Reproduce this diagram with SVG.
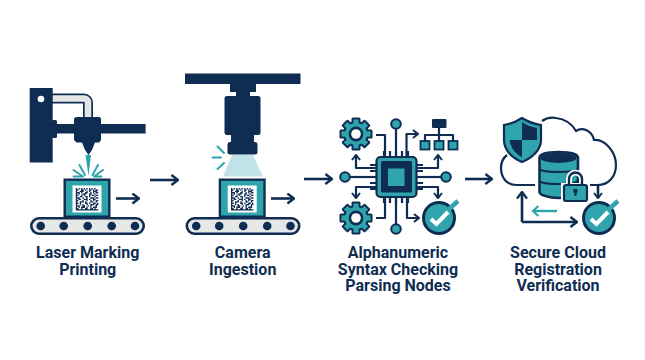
<svg xmlns="http://www.w3.org/2000/svg" width="645" height="360" viewBox="0 0 645 360">
<style>
.navy{fill:#0f2d52}
.teal{fill:#2fa4ad}
.line{fill:none;stroke:#0f2d52;stroke-width:2.2;stroke-linecap:butt;stroke-linejoin:round}
.thick{fill:none;stroke:#0f2d52;stroke-width:2.6;stroke-linejoin:miter}
.ray{fill:none;stroke:#2fa4ad;stroke-width:2;stroke-linecap:round}
.lab{font-family:Roboto,"Liberation Sans",sans-serif;font-weight:700;font-size:16px;fill:#0f2d52;text-anchor:middle}
</style>
<defs>
  <marker id="head" viewBox="0 0 10 12" refX="8.6" refY="6" markerWidth="10" markerHeight="12" markerUnits="userSpaceOnUse" orient="auto">
    <path d="M2 1L8.6 6L2 11" fill="none" stroke="#0f2d52" stroke-width="2.4"/>
  </marker>
  <marker id="headS" viewBox="0 0 8 10" refX="6.6" refY="5" markerWidth="8" markerHeight="10" markerUnits="userSpaceOnUse" orient="auto">
    <path d="M1.6 1L6.6 5L1.6 9" fill="none" stroke="#0f2d52" stroke-width="2"/>
  </marker>
  <marker id="headT" viewBox="0 0 10 12" refX="8.400" refY="6" markerWidth="10" markerHeight="12" markerUnits="userSpaceOnUse" orient="auto">
    <path d="M3 1L8.400 6L3 11" fill="none" stroke="#2fa4ad" stroke-width="2.2"/>
  </marker>
  <!-- Two-dimensional code, 17 by 17 modules -->
  <g id="code">
    <rect width="29" height="27" fill="#fff"/>
    <g transform="translate(3.3 2.6) scale(1.32)">
      <path fill="none" stroke="#0f2d52" stroke-width="1" d="M0 .5h1m1 0h1m1 0h1m1 0h1m1 0h1m1 0h1m1 0h1m1 0h1
      M0 1.5h2m2 0h2m1 0h1m2 0h2m1 0h1m1 0h2
      M0 2.5h1m2 0h3m2 0h1m1 0h1m2 0h3
      M0 3.5h3m1 0h1m2 0h2m2 0h1m1 0h1m1 0h2
      M0 4.5h1m1 0h1m2 0h3m2 0h2m2 0h1
      M0 5.5h2m2 0h1m1 0h1m3 0h1m1 0h2m1 0h2
      M0 6.5h1m2 0h2m2 0h2m1 0h1m3 0h1
      M0 7.5h3m2 0h1m2 0h1m2 0h3m1 0h2
      M0 8.5h1m1 0h2m2 0h3m1 0h1m2 0h2
      M0 9.5h2m3 0h1m2 0h1m2 0h1m1 0h1m1 0h2
      M0 10.5h1m2 0h3m1 0h1m3 0h2m2 0h1
      M0 11.5h2m1 0h1m3 0h2m1 0h1m2 0h2m1 0h1
      M0 12.5h1m2 0h1m1 0h1m2 0h1m2 0h3m1 0h2
      M0 13.5h3m2 0h2m2 0h1m1 0h1m3 0h1
      M0 14.5h1m1 0h1m1 0h3m1 0h1m2 0h1m1 0h3
      M0 15.5h2m2 0h1m2 0h2m2 0h2m1 0h1
      M0 16.5h17"/>
    </g>
  </g>
  <!-- Conveyor belt with five rollers, origin at its left end -->
  <g id="belt">
    <rect x="1.3" y="1.3" width="112.4" height="15.4" rx="7.7" fill="#e6e7e7" stroke="#0f2d52" stroke-width="2.6"/>
    <circle cx="10.7" cy="9" r="4.3" class="navy"/>
    <circle cx="33.7" cy="9" r="4.3" class="navy"/>
    <circle cx="57.7" cy="9" r="4.3" class="navy"/>
    <circle cx="81.7" cy="9" r="4.3" class="navy"/>
    <circle cx="105" cy="9" r="4.3" class="navy"/>
  </g>
  <!-- Carton holding the code, origin at its top left -->
  <g id="carton">
    <rect x="1.2" y="1.2" width="44.6" height="37" class="teal" stroke="#0f2d52" stroke-width="2.4"/>
    <use href="#code" x="9" y="7"/>
  </g>
  <!-- Gear, origin at its centre -->
  <g id="gear">
    <g class="navy">
      <rect x="-4.5" y="-16.5" width="9" height="33" rx="1.5"/>
      <rect x="-4.5" y="-16.5" width="9" height="33" rx="1.5" transform="rotate(45)"/>
      <rect x="-4.5" y="-16.5" width="9" height="33" rx="1.5" transform="rotate(90)"/>
      <rect x="-4.5" y="-16.5" width="9" height="33" rx="1.5" transform="rotate(135)"/>
      <circle r="13"/>
    </g>
    <g class="teal">
      <rect x="-2.6" y="-14.5" width="5.2" height="29"/>
      <rect x="-2.6" y="-14.5" width="5.2" height="29" transform="rotate(45)"/>
      <rect x="-2.6" y="-14.5" width="5.2" height="29" transform="rotate(90)"/>
      <rect x="-2.6" y="-14.5" width="5.2" height="29" transform="rotate(135)"/>
      <circle r="11"/>
    </g>
    <circle r="7.4" class="navy"/>
    <circle r="4.8" fill="#fff"/>
  </g>
  <!-- Round check badge, origin at its centre -->
  <g id="badge">
    <circle r="15.500" class="teal" stroke="#0f2d52" stroke-width="3"/>
    <path d="M-8 1L-2.500 6L9 -6" fill="none" stroke="#fff" stroke-width="4"/>
    <path d="M9 -8L19 -17" fill="none" stroke="#2fa4ad" stroke-width="4.400"/>
  </g>
</defs>
<rect width="645" height="360" fill="#fff"/>

<g id="connectors">
  <path class="thick" d="M150 180H178" marker-end="url(#head)"/>
  <path class="thick" d="M304 179H332" marker-end="url(#head)"/>
  <path class="thick" d="M465 179H492" marker-end="url(#head)"/>
</g>

<g id="laser-marking">
  <path d="M52 98.500H84a4 4 0 0 1 4 4V120" fill="none" stroke="#0f2d52" stroke-width="10"/>
  <path d="M52 98.500H84a4 4 0 0 1 4 4V120" fill="none" stroke="#e4e6e6" stroke-width="6.600"/>
  <rect x="29.700" y="88" width="23" height="74.500" class="navy"/>
  <circle cx="41" cy="99" r="3.300" fill="#fff"/>
  <rect x="52" y="120" width="5" height="18" rx="1.500" class="navy"/>
  <rect x="55" y="124" width="90.600" height="9.500" class="navy"/>
  <path class="navy" d="M76 117H99.500L101 118.500V140L99 142.500H95L92 150L88.500 155L85 150L82 142.500H76.500L74 140V118.500Z"/>
  <path d="M85.500 155H91L88.500 176Z" class="teal"/>
  <path class="ray" d="M79.500 165L85 175M73.500 170L83 176.500M73.500 176.500H83M98 165L92.500 175M103 170L94 176.500M101.500 176.500H94"/>
  <use href="#carton" x="63.500" y="178.500"/>
  <path class="thick" d="M116 198.500H139" marker-end="url(#head)"/>
  <use href="#belt" x="30" y="217"/>
  <text class="lab" x="87.700" y="258">Laser Marking</text>
  <text class="lab" x="87.700" y="274.500">Printing</text>
</g>

<g id="camera-ingestion">
  <path d="M232 155H253L263 176.500H223Z" fill="#bfe3e8"/>
  <rect x="185" y="73.500" width="115.500" height="10.500" class="navy"/>
  <rect x="230" y="84" width="26" height="8" class="navy"/>
  <rect x="236" y="92" width="14" height="5" class="navy"/>
  <rect x="224.500" y="96" width="36" height="39" rx="2.500" class="navy"/>
  <rect x="231" y="135" width="23" height="8" class="navy"/>
  <rect x="227.500" y="142" width="30" height="12.500" rx="2.500" class="navy"/>
  <path class="ray" d="M217.500 146.500L224 153M212.500 157.500H221M217.500 169L224 163" stroke-width="2.400"/>
  <use href="#carton" x="218.700" y="178.500"/>
  <path class="thick" d="M271 198.500H294" marker-end="url(#head)"/>
  <use href="#belt" x="185.500" y="217"/>
  <text class="lab" x="242.700" y="258">Camera</text>
  <text class="lab" x="242.700" y="274.500">Ingestion</text>
</g>

<g id="syntax-parsing">
  <use href="#gear" x="356" y="134"/>
  <use href="#gear" x="356" y="218"/>
  <!-- Traces from the chip out to each peripheral -->
  <path class="line" d="M385 157V135H376M396 157V129M406.500 157V134H417" />
  <path class="line" d="M417 134H418" marker-end="url(#headS)"/>
  <path class="line" d="M376 168H356V155" marker-end="url(#headS)"/>
  <path class="line" d="M376 177H350"/>
  <path class="line" d="M376 187H356V198" marker-end="url(#headS)"/>
  <path class="line" d="M417 168H438V155" marker-end="url(#headS)"/>
  <path class="line" d="M417 177H441"/>
  <path class="line" d="M417 187H438V198" marker-end="url(#headS)"/>
  <path class="line" d="M385 197V218H376M396 197V224"/>
  <path class="line" d="M407 197V218H419" marker-end="url(#headS)"/>
  <circle cx="396" cy="124" r="4.800" class="teal" stroke="#0f2d52" stroke-width="2"/>
  <circle cx="396" cy="229" r="4.800" class="teal" stroke="#0f2d52" stroke-width="2"/>
  <circle cx="345" cy="177" r="4.800" class="teal" stroke="#0f2d52" stroke-width="2"/>
  <circle cx="446" cy="177" r="4.800" class="teal" stroke="#0f2d52" stroke-width="2"/>
  <!-- Chip pins -->
  <path class="line" stroke-width="1.800" d="M384 151V157M390 151V157M396 151V157M402 151V157M408 151V157M384 197V203M390 197V203M396 197V203M402 197V203M408 197V203M370 165H376M370 171H376M370 177H376M370 183H376M370 189H376M417 165H423M417 171H423M417 177H423M417 183H423M417 189H423"/>
  <rect x="376.500" y="157" width="40" height="40" rx="4" class="teal" stroke="#0f2d52" stroke-width="2.200"/>
  <rect x="381" y="161" width="31" height="31.500" rx="1.500" class="navy"/>
  <rect x="388" y="168.500" width="16.500" height="17.500" class="teal"/>
  <!-- Hierarchy icon -->
  <rect x="432" y="119" width="14.500" height="9" rx="1" class="navy"/>
  <path class="line" stroke-width="1.800" d="M439 128V135M425 141V135H453V141M439 135V141"/>
  <g class="teal" stroke="#0f2d52" stroke-width="1.800">
    <rect x="420.500" y="141" width="9" height="8.500"/>
    <rect x="434.500" y="141" width="9" height="8.500"/>
    <rect x="448.500" y="141" width="9" height="8.500"/>
  </g>
  <use href="#badge" x="439" y="218"/>
  <text class="lab" x="398" y="258">Alphanumeric</text>
  <text class="lab" x="398" y="274.500">Syntax Checking</text>
  <text class="lab" x="398" y="291">Parsing Nodes</text>
</g>

<g id="cloud-registration">
  <path class="line" d="M542 121C546 118 551 117 556 118C565 119 572 124 576 131C582 127 592 130 594 140C605 139 616 152 616 165C616 177 608 185 598 185H590M507 155C503 158 501 163 501 168C501 178 507 185 516 185H535"/>
  <!-- Shield -->
  <path d="M522 118C528 122 534 124 541 125V140C541 150 532 158 522 162C512 158 504 150 504 140V125C510 124 516 122 522 118Z" class="teal" stroke="#0f2d52" stroke-width="2.200"/>
  <path d="M522 122C526 125 531 127 537 128V140H522ZM522 140H509.500C510.500 148 516 154 522 157.500Z" class="navy"/>
  <!-- Database cylinder -->
  <path d="M539.500 158C539.500 154 548 152 558.500 152S578 154 578 158V192C578 195 568 198 558.500 198S539.500 195 539.500 192Z" class="teal" stroke="#0f2d52" stroke-width="2.600"/>
  <ellipse cx="558.500" cy="158" rx="18" ry="5" class="navy"/>
  <path class="line" stroke-width="2.400" d="M539.500 169C543 173 574 173 578 169M539.500 181C543 185 574 185 578 181"/>
  <!-- Padlock -->
  <rect x="561" y="183" width="28" height="20" fill="#fff"/>
  <path d="M569 186V179A6.500 6.500 0 0 1 582 179V186" fill="none" stroke="#fff" stroke-width="6"/>
  <path d="M569 186V179A6.500 6.500 0 0 1 582 179V186" fill="none" stroke="#0f2d52" stroke-width="2.400"/>
  <rect x="564" y="185" width="23" height="16" rx="2" class="teal" stroke="#0f2d52" stroke-width="2.200"/>
  <circle cx="575.500" cy="191" r="2.300" class="navy"/>
  <rect x="574.500" y="191" width="2" height="5" class="navy"/>
  <!-- Sync arrows -->
  <path class="thick" d="M598 185V198" marker-end="url(#headS)"/>
  <path class="thick" d="M522 222V192" marker-end="url(#head)"/>
  <path class="thick" d="M522 222H577" marker-end="url(#head)"/>
  <path d="M557 211H533" fill="none" stroke="#2fa4ad" stroke-width="2.400" marker-end="url(#headT)"/>
  <use href="#badge" x="599" y="218"/>
  <text class="lab" x="558" y="258">Secure Cloud</text>
  <text class="lab" x="558" y="274.500">Registration</text>
  <text class="lab" x="558" y="291">Verification</text>
</g>
</svg>
